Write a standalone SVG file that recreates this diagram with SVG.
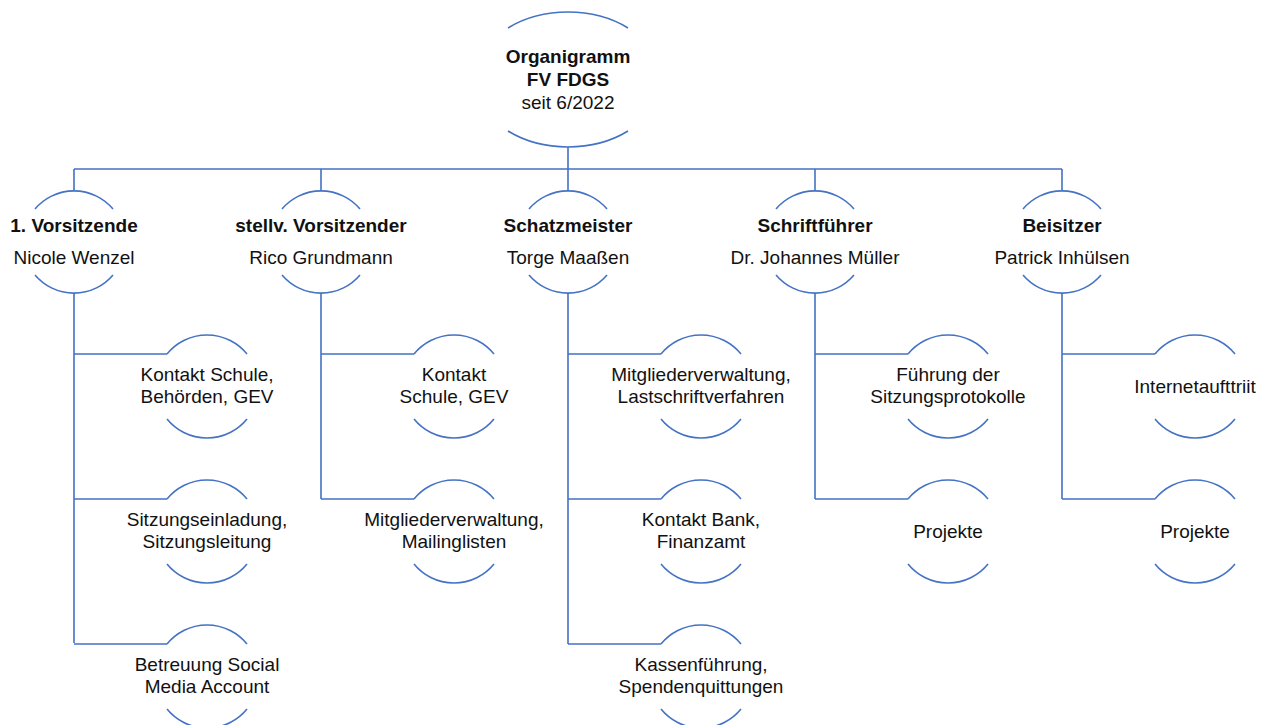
<svg xmlns="http://www.w3.org/2000/svg" width="1268" height="725" viewBox="0 0 1268 725">
<style>
.arc{fill:none;stroke:#4472C4;stroke-width:1.6}
.con{fill:none;stroke:#4472C4;stroke-width:1.6}
text{font-family:"Liberation Sans",Arial,sans-serif;font-size:19px;fill:#111;text-anchor:middle}
.b{font-weight:bold}
</style>
<rect width="1268" height="725" fill="#fff"/>
<g id="connectors" class="con">
<path d="M568 147V169M74 169H1062M74 169V191M321 169V191M568 169V191M815 169V191M1062 169V191"/>
<path d="M74 293V643M74 354H167M74 499H167M74 644H167"/>
<path d="M321 293V499M321 354H414M321 499H414"/>
<path d="M568 293V644M568 354H661M568 499H661M568 644H661"/>
<path d="M815 293V499M815 354H908M815 499H908"/>
<path d="M1062 293V499M1062 354H1155M1062 499H1155"/>
</g>
<g id="root">
<path class="arc" d="M508 28A93 67.5 0 0 1 628 28M508 131A93 67.5 0 0 0 628 131"/>
<text x="568" y="63" class="b">Organigramm</text>
<text x="568" y="86" class="b">FV FDGS</text>
<text x="568" y="109">seit 6/2022</text>
</g>
<g id="n1">
<path class="arc" d="M35 209A51 51 0 0 1 113 209M35 275A51 51 0 0 0 113 275"/>
<text x="74" y="232" class="b">1. Vorsitzende</text><text x="74" y="264">Nicole Wenzel</text>
</g>
<g id="n2">
<path class="arc" d="M282 209A51 51 0 0 1 360 209M282 275A51 51 0 0 0 360 275"/>
<text x="321" y="232" class="b">stellv. Vorsitzender</text><text x="321" y="264">Rico Grundmann</text>
</g>
<g id="n3">
<path class="arc" d="M529 209A51 51 0 0 1 607 209M529 275A51 51 0 0 0 607 275"/>
<text x="568" y="232" class="b">Schatzmeister</text><text x="568" y="264">Torge Maaßen</text>
</g>
<g id="n4">
<path class="arc" d="M776 209A51 51 0 0 1 854 209M776 275A51 51 0 0 0 854 275"/>
<text x="815" y="232" class="b">Schriftführer</text><text x="815" y="264">Dr. Johannes Müller</text>
</g>
<g id="n5">
<path class="arc" d="M1023 209A51 51 0 0 1 1101 209M1023 275A51 51 0 0 0 1101 275"/>
<text x="1062" y="232" class="b">Beisitzer</text><text x="1062" y="264">Patrick Inhülsen</text>
</g>
<g id="n1a">
<path class="arc" d="M167 354A51.5 51.5 0 0 1 247 354M167 419A51.5 51.5 0 0 0 247 419"/>
<text x="207" y="381">Kontakt Schule,</text><text x="207" y="403">Behörden, GEV</text>
</g>
<g id="n1b">
<path class="arc" d="M167 499A51.5 51.5 0 0 1 247 499M167 564A51.5 51.5 0 0 0 247 564"/>
<text x="207" y="526">Sitzungseinladung,</text><text x="207" y="548">Sitzungsleitung</text>
</g>
<g id="n1c">
<path class="arc" d="M167 644A51.5 51.5 0 0 1 247 644M167 709A51.5 51.5 0 0 0 247 709"/>
<text x="207" y="671">Betreuung Social</text><text x="207" y="693">Media Account</text>
</g>
<g id="n2a">
<path class="arc" d="M414 354A51.5 51.5 0 0 1 494 354M414 419A51.5 51.5 0 0 0 494 419"/>
<text x="454" y="381">Kontakt</text><text x="454" y="403">Schule, GEV</text>
</g>
<g id="n2b">
<path class="arc" d="M414 499A51.5 51.5 0 0 1 494 499M414 564A51.5 51.5 0 0 0 494 564"/>
<text x="454" y="526">Mitgliederverwaltung,</text><text x="454" y="548">Mailinglisten</text>
</g>
<g id="n3a">
<path class="arc" d="M661 354A51.5 51.5 0 0 1 741 354M661 419A51.5 51.5 0 0 0 741 419"/>
<text x="701" y="381">Mitgliederverwaltung,</text><text x="701" y="403">Lastschriftverfahren</text>
</g>
<g id="n3b">
<path class="arc" d="M661 499A51.5 51.5 0 0 1 741 499M661 564A51.5 51.5 0 0 0 741 564"/>
<text x="701" y="526">Kontakt Bank,</text><text x="701" y="548">Finanzamt</text>
</g>
<g id="n3c">
<path class="arc" d="M661 644A51.5 51.5 0 0 1 741 644M661 709A51.5 51.5 0 0 0 741 709"/>
<text x="701" y="671">Kassenführung,</text><text x="701" y="693">Spendenquittungen</text>
</g>
<g id="n4a">
<path class="arc" d="M908 354A51.5 51.5 0 0 1 988 354M908 419A51.5 51.5 0 0 0 988 419"/>
<text x="948" y="381">Führung der</text><text x="948" y="403">Sitzungsprotokolle</text>
</g>
<g id="n4b">
<path class="arc" d="M908 499A51.5 51.5 0 0 1 988 499M908 564A51.5 51.5 0 0 0 988 564"/>
<text x="948" y="538">Projekte</text>
</g>
<g id="n5a">
<path class="arc" d="M1155 354A51.5 51.5 0 0 1 1235 354M1155 419A51.5 51.5 0 0 0 1235 419"/>
<text x="1195" y="393">Internetaufttriit</text>
</g>
<g id="n5b">
<path class="arc" d="M1155 499A51.5 51.5 0 0 1 1235 499M1155 564A51.5 51.5 0 0 0 1235 564"/>
<text x="1195" y="538">Projekte</text>
</g>
</svg>
